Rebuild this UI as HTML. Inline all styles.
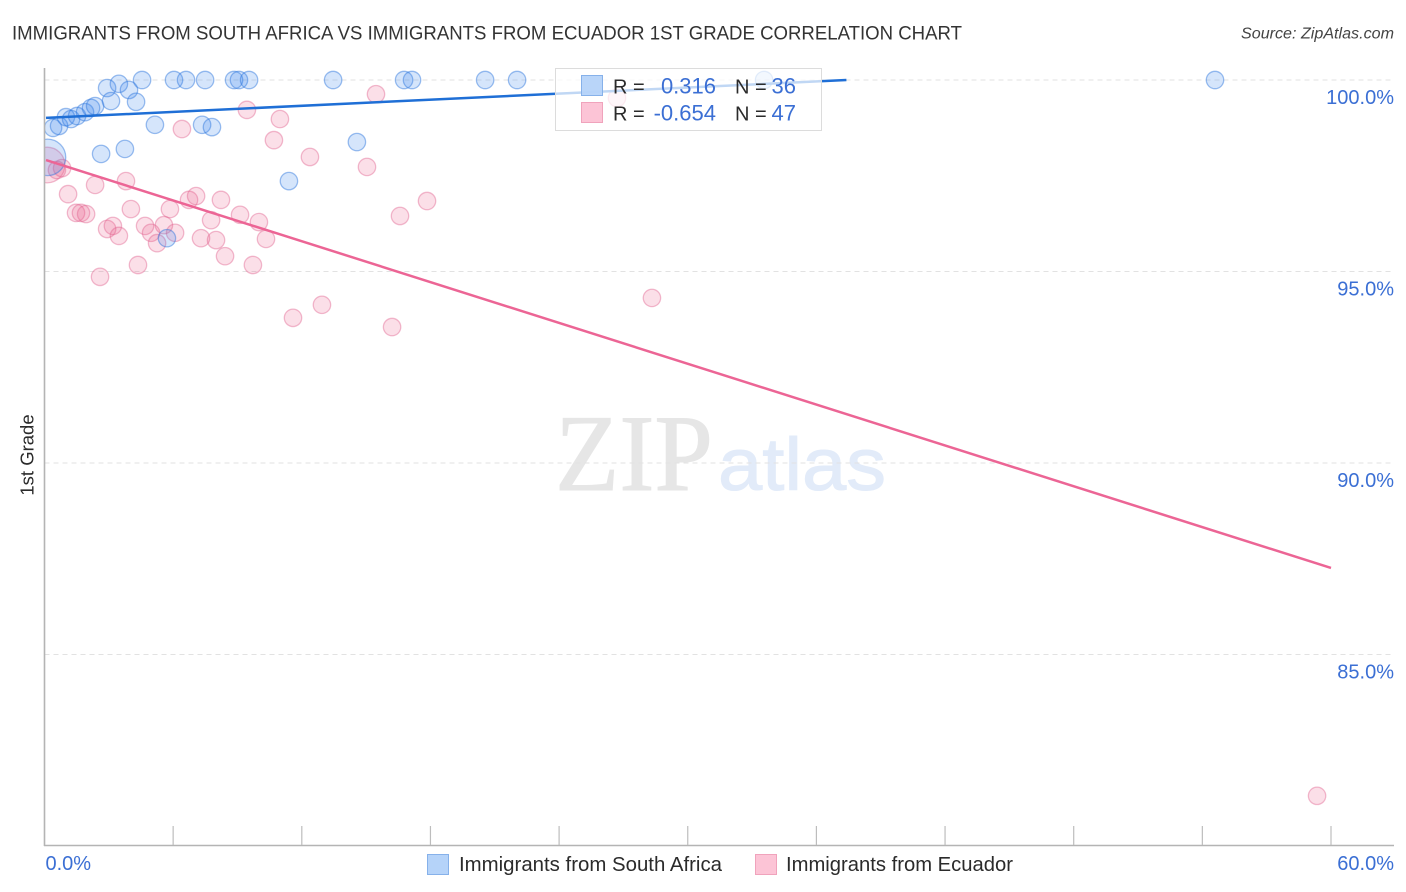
<!DOCTYPE html>
<html lang="en">
<head>
<meta charset="utf-8">
<title>Immigrants from South Africa vs Immigrants from Ecuador 1st Grade Correlation Chart</title>
<style>
html,body{margin:0;padding:0;background:#fff;width:1406px;height:892px;overflow:hidden}
svg{display:block;font-family:"Liberation Sans",sans-serif}
</style>
</head>
<body>
<svg id="chart" width="1406" height="892" viewBox="0 0 1406 892" xmlns="http://www.w3.org/2000/svg">
  <rect x="0" y="0" width="1406" height="892" fill="#fff"/>
  <text x="12" y="39.5" font-size="19.5" fill="#333" textLength="950" lengthAdjust="spacingAndGlyphs">IMMIGRANTS FROM SOUTH AFRICA VS IMMIGRANTS FROM ECUADOR 1ST GRADE CORRELATION CHART</text>
  <text x="1241" y="38.5" font-size="15.5" font-style="italic" fill="#444" textLength="153" lengthAdjust="spacingAndGlyphs">Source: ZipAtlas.com</text>

  <g>
    <text x="555" y="490" font-family="'Liberation Serif',serif" font-size="109" fill="#e6e6e6" stroke="#e6e6e6" stroke-width="1" textLength="158" lengthAdjust="spacingAndGlyphs">ZIP</text>
    <text x="718" y="490" font-size="74" fill="#e2ebf9" stroke="#e2ebf9" stroke-width="1" textLength="168" lengthAdjust="spacingAndGlyphs">atlas</text>
  </g>

  <g id="grid-layer"></g>
  <g id="point-layer"></g>
  <rect x="0" y="125" width="44" height="70" fill="#fff"/>
  <g id="axis-layer"></g>
  <g id="line-layer"></g>

  <text x="0" y="0" transform="translate(33.5,455) rotate(-90)" font-size="18.5" fill="#2b2b2b" text-anchor="middle">1st Grade</text>

  <g>
    <rect x="555.5" y="68.5" width="266" height="62" fill="#fff" fill-opacity="0.72" stroke="#dcdcdc" stroke-width="1"/>
    <rect x="581.5" y="75.5" width="21" height="20" fill="#b5d3f9" fill-opacity="0.95" stroke="#86b1ea"/>
    <rect x="581.5" y="102.5" width="21" height="20" fill="#fcc4d6" stroke="#f0a3bc"/>
    <text x="613" y="93.5" font-size="20" fill="#2b2b2b">R =</text>
    <text x="716" y="93.5" font-size="22" fill="#3b6fd4" text-anchor="end">0.316</text>
    <text x="735" y="93.5" font-size="20" fill="#2b2b2b">N =</text>
    <text x="796" y="93.5" font-size="22" fill="#3b6fd4" text-anchor="end">36</text>
    <text x="613" y="120.5" font-size="20" fill="#2b2b2b">R =</text>
    <text x="716" y="120.5" font-size="22" fill="#3b6fd4" text-anchor="end">-0.654</text>
    <text x="735" y="120.5" font-size="20" fill="#2b2b2b">N =</text>
    <text x="796" y="120.5" font-size="22" fill="#3b6fd4" text-anchor="end">47</text>
  </g>

  <g>
    <rect x="427.5" y="854.5" width="21" height="20" fill="#b5d3f9" stroke="#86b1ea"/>
    <text x="459" y="871" font-size="20" fill="#2b2b2b" textLength="263" lengthAdjust="spacingAndGlyphs">Immigrants from South Africa</text>
    <rect x="755.5" y="854.5" width="21" height="20" fill="#fcc4d6" stroke="#f0a3bc"/>
    <text x="786" y="871" font-size="20" fill="#2b2b2b" textLength="227" lengthAdjust="spacingAndGlyphs">Immigrants from Ecuador</text>
  </g>
</svg>
<script>
const xTicks = [0, 6, 12, 18, 24, 30, 36, 42, 48, 54, 60];
const yTicks = [100, 95, 90, 85];
const yTickLabels = ["100.0%", "95.0%", "90.0%", "85.0%"];
const xEdgeTicks = [0, 60];
const xEdgeLabels = ["0.0%", "60.0%"];

const southAfricaX = [0.14,0.40,0.68,1.00,1.24,1.52,1.89,2.17,2.36,2.92,3.47,3.94,3.10,4.27,4.55,6.04,6.60,7.49,8.84,9.07,9.54,13.46,16.77,17.14,20.55,22.04,33.56,54.59,5.15,7.35,7.81,2.64,3.75,14.57,11.40,5.71];
const southAfricaY = [97.98,98.75,98.80,99.03,98.98,99.06,99.16,99.27,99.32,99.79,99.90,99.74,99.45,99.43,100,100,100,100,100,100,100,100,100,100,100,100,100,100,98.83,98.83,98.77,98.07,98.20,98.38,97.36,95.87];
const southAfricaWeight = [4.4,1,1,1,1,1,1,1,1,1,1,1,1,1,1,1,1,1,1,1,1,1,1,1,1,1,1,1,1,1,1,1,1,1,1,1];

const ecuadorX = [0.12,0.82,0.58,1.10,2.36,3.80,1.47,1.70,1.94,4.03,2.92,3.19,3.47,4.69,4.97,5.25,5.57,6.09,5.85,6.74,7.07,8.23,7.77,9.12,10.00,10.33,7.30,8.00,8.42,9.72,4.36,2.59,6.41,9.44,10.98,10.70,12.38,15.04,16.58,17.84,11.59,12.94,16.21,28.33,59.35,15.46,26.70];
const ecuadorY = [97.78,97.70,97.65,97.02,97.26,97.36,96.53,96.53,96.50,96.63,96.11,96.19,95.93,96.19,96.01,95.74,96.21,96.01,96.63,96.87,96.97,96.87,96.34,96.48,96.29,95.85,95.87,95.82,95.40,95.17,95.17,94.86,98.72,99.22,98.98,98.43,97.99,97.73,96.45,96.84,93.79,94.13,93.55,94.31,81.31,99.63,99.53];
const ecuadorWeight = [4.2,1,1,1,1,1,1,1,1,1,1,1,1,1,1,1,1,1,1,1,1,1,1,1,1,1,1,1,1,1,1,1,1,1,1,1,1,1,1,1,1,1,1,1,1,1,1];

const southAfricaTrendX = [0.07, 37.4];
const southAfricaTrendY = [99.01, 100];
const ecuadorTrendX = [0.07, 60];
const ecuadorTrendY = [97.91, 87.26];

const SVGNS = "http://www.w3.org/2000/svg";
function xScale(v) { return 44.5 + v * (1331 - 44.5) / 60; }
function yScale(v) { return 80 + (100 - v) * 38.3; }
function rScale(w) { return 8.7 * Math.sqrt(w); }
function make(tag, attrs, parent) {
  const el = document.createElementNS(SVGNS, tag);
  for (const k in attrs) el.setAttribute(k, attrs[k]);
  parent.appendChild(el);
  return el;
}

const gridLayer = document.getElementById("grid-layer");
const axisLayer = document.getElementById("axis-layer");
const pointLayer = document.getElementById("point-layer");
const lineLayer = document.getElementById("line-layer");

yTicks.forEach(function (t, i) {
  const g = make("line", {x1: 44.5, x2: 1394, y1: yScale(t), y2: yScale(t), stroke: "#e2e2e2", "stroke-width": 1, "stroke-dasharray": "5 4"}, gridLayer);
  
  
  const lab = make("text", {x: 1394, y: yScale(t) + 24, "font-size": 20, fill: "#3b6fd4", "text-anchor": "end"}, axisLayer);
  lab.textContent = yTickLabels[i];
  
  
});

const yAxisLine = make("line", {x1: 44.5, x2: 44.5, y1: 68, y2: 846, stroke: "#b4b4b4", "stroke-width": 1.6}, axisLayer);


const xAxisLine = make("line", {x1: 44, x2: 1394, y1: 845.5, y2: 845.5, stroke: "#b4b4b4", "stroke-width": 1.4}, axisLayer);



xTicks.slice(1).forEach(function (t) {
  const tk = make("line", {x1: xScale(t), x2: xScale(t), y1: 826, y2: 845, stroke: "#bdbdbd", "stroke-width": 1.2}, axisLayer);
  
  
});

xEdgeTicks.forEach(function (t, i) {
  const lab = make("text", {x: i === 0 ? xScale(t) + 1 : 1394, y: 870, "font-size": 20, fill: "#3b6fd4", "text-anchor": i === 0 ? "start" : "end"}, axisLayer);
  lab.textContent = xEdgeLabels[i];
  
  
});

ecuadorX.forEach(function (v, i) {
  const c = make("circle", {cx: xScale(v), cy: yScale(ecuadorY[i]), r: rScale(ecuadorWeight[i]), fill: "#ea5f8e", "fill-opacity": 0.2, stroke: "#e0608c", "stroke-opacity": 0.42, "stroke-width": 1.3}, pointLayer);
  
  
});

southAfricaX.forEach(function (v, i) {
  const c = make("circle", {cx: xScale(v), cy: yScale(southAfricaY[i]), r: rScale(southAfricaWeight[i]), fill: "#3b86ea", "fill-opacity": 0.21, stroke: "#2f78dc", "stroke-opacity": 0.47, "stroke-width": 1.3}, pointLayer);
  
  
});

const trendBlue = make("line", {x1: xScale(southAfricaTrendX[0]), x2: xScale(southAfricaTrendX[1]), y1: yScale(southAfricaTrendY[0]), y2: yScale(southAfricaTrendY[1]), stroke: "#1f6fd6", "stroke-width": 2.5}, lineLayer);


const trendPink = make("line", {x1: xScale(ecuadorTrendX[0]), x2: xScale(ecuadorTrendX[1]), y1: yScale(ecuadorTrendY[0]), y2: yScale(ecuadorTrendY[1]), stroke: "#ec6595", "stroke-width": 2.5}, lineLayer);


</script>
</body>
</html>
